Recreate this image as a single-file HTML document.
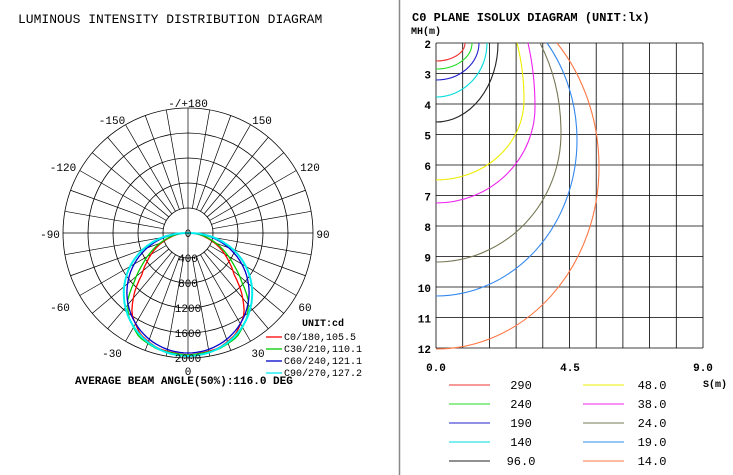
<!DOCTYPE html>
<html><head><meta charset="utf-8"><style>
html,body{margin:0;padding:0;background:#fff}
svg{display:block}
text{font-family:"Liberation Mono",monospace;fill:#000}
</style></head><body>
<svg id="s" width="733" height="475" viewBox="0 0 733 475" xmlns="http://www.w3.org/2000/svg">
<rect width="733" height="475" fill="#fff"/>
<text x="18" y="23" font-size="13">LUMINOUS INTENSITY DISTRIBUTION DIAGRAM</text>
<line x1="399.5" y1="0" x2="399.5" y2="475" stroke="#888" stroke-width="1.5"/>
<g id="polar"></g>
<g id="iso"></g>
<text x="412" y="21" font-size="12" font-weight="bold" font-family="Liberation Mono">C0 PLANE ISOLUX DIAGRAM (UNIT:lx)</text>
<text x="411" y="34" font-size="10" font-weight="bold">MH(m)</text>
<text x="703" y="387" font-size="10" font-weight="bold">S(m)</text>
</svg>
<script>
var NS="http://www.w3.org/2000/svg";
function el(p,t,a,txt){var e=document.createElementNS(NS,t);for(var k in a)e.setAttribute(k,a[k]);if(txt!==undefined)e.textContent=txt;p.appendChild(e);return e;}
var P=document.getElementById('polar'),cx=188,cy=233;
for(var r=25;r<=125;r+=25)el(P,'circle',{cx:cx,cy:cy,r:r,fill:'none',stroke:'#000','stroke-width':0.8});
for(var a=0;a<360;a+=10){var rad=a*Math.PI/180;var r0=(a%90==0)?0:25;
el(P,'line',{x1:cx+r0*Math.sin(rad),y1:cy-r0*Math.cos(rad),x2:cx+125*Math.sin(rad),y2:cy-125*Math.cos(rad),stroke:'#000','stroke-width':0.7});}
function tab(t,arr){t=Math.abs(t);for(var i=0;i<arr.length-1;i++){if(t<=arr[i+1][0]){var f=(t-arr[i][0])/(arr[i+1][0]-arr[i][0]);return arr[i][1]+f*(arr[i+1][1]-arr[i][1]);}}return 0;}
var red=[[0,122],[15,119],[25,112],[35,98],[42,80],[48,62],[55,50],[65,35],[75,20],[85,7],[90,0]];
var green=[[0,122],[15,120],[25,115],[35,103],[42,90],[48,72],[55,56],[65,38],[75,22],[85,8],[90,0]];
var curves=[['#f00',red],['#0c0',green],['#00c',null,0.95,120],['#0ee',null,0.88,123]];
curves.forEach(function(c){var d='';for(var t=-90;t<=90;t+=2){var r=c[1]?tab(t,c[1]):c[3]*Math.pow(Math.cos(t*Math.PI/180),c[2]);var rad=t*Math.PI/180;var x=cx-r*Math.sin(rad),y=cy+r*Math.cos(rad);d+=(d?'L':'M')+x.toFixed(1)+','+y.toFixed(1);}
el(P,'path',{d:d,fill:'none',stroke:c[0],'stroke-width':c[0]=='#0ee'?2:1.3});});
[['400',258],['800',283],['1200',308],['1600',333],['2000',358]].forEach(function(v){el(P,'text',{x:cx,y:v[1]+4,'font-size':11,'text-anchor':'middle'},v[0]);});
el(P,'text',{x:cx,y:237,'font-size':11,'text-anchor':'middle'},'0');
[['-/+180',188,107],['150',262,124],['-150',112,124],['120',310,171],['-120',63,171],['90',323,238],['-90',50,238],['60',305,311],['-60',60,311],['30',258,357],['-30',112,357],['0',188,375]].forEach(function(v){el(P,'text',{x:v[1],y:v[2],'font-size':11,'text-anchor':'middle'},v[0]);});
el(P,'text',{x:302,y:326,'font-size':10,'font-weight':'bold','font-family':'Liberation Serif'},'UNIT:cd');
[['#f00','C0/180,105.5',340],['#0c0','C30/210,110.1',352],['#00c','C60/240,121.1',364],['#0ee','C90/270,127.2',376]].forEach(function(v){el(P,'line',{x1:266,x2:282,y1:v[2]-3,y2:v[2]-3,stroke:v[0],'stroke-width':1.3});el(P,'text',{x:284,y:v[2],'font-size':10},v[1]);});
el(P,'text',{x:75,y:384,'font-size':11,'font-weight':'bold','font-family':'Liberation Serif'},'AVERAGE BEAM ANGLE(50%):116.0 DEG');
var I=document.getElementById('iso'),x0=436,x1=703,y0=43,y1=348;
for(var i=0;i<=10;i++){var x=x0+(x1-x0)*i/10;el(I,'line',{x1:x,x2:x,y1:y0,y2:y1,stroke:'#000','stroke-width':0.8});}
for(var j=0;j<=10;j++){var y=y0+(y1-y0)*j/10;el(I,'line',{x1:x0,x2:x1,y1:y,y2:y,stroke:'#000','stroke-width':0.8});
el(I,'text',{x:431,y:y+5,'font-size':11,'font-weight':'bold','text-anchor':'end'},String(j+2));}
[['0.0',436],['4.5',570],['9.0',703]].forEach(function(v){el(I,'text',{x:v[1],y:371,'font-size':11,'font-weight':'bold','text-anchor':'middle'},v[0]);});
var iso=[['#e33',465,null,null,61],['#2d2',472,null,null,69],['#22c',479,null,null,80],['#0dd',487,null,null,97],['#222',498,null,null,122],
['#ee0',517,524,100,180],['#e2e',528,535,107,203],['#775',540,561,133,262],['#38e',547,577,140,296],['#f74',557,599,167,349]];
iso.forEach(function(c){var xt=c[1],d;
if(c[2]===null){d='M'+xt+','+y0+' A'+(xt-x0)+','+(c[4]-y0)+' 0 0 1 '+x0+','+c[4];}
else{var xm=c[2],ym=c[3],rx=xm-x0;var q=(xt-x0)/rx;var ryt=(ym-y0)/Math.sqrt(1-q*q);
d='M'+xt+','+y0+' A'+rx+','+ryt.toFixed(1)+' 0 0 1 '+xm+','+ym+' A'+rx+','+(c[4]-ym)+' 0 0 1 '+x0+','+c[4];}
el(I,'path',{d:d,fill:'none',stroke:c[0],'stroke-width':1.1});});
var L1=[['#e33','290'],['#2d2','240'],['#22c','190'],['#0dd','140'],['#222','96.0']];
var L2=[['#ee0','48.0'],['#e2e','38.0'],['#775','24.0'],['#38e','19.0'],['#f74','14.0']];
for(var k=0;k<5;k++){var y=385+19*k;
el(I,'line',{x1:449,x2:490,y1:y,y2:y,stroke:L1[k][0],'stroke-width':1});
el(I,'text',{x:521,y:y+4,'font-size':12,'text-anchor':'middle'},L1[k][1]);
el(I,'line',{x1:583,x2:624,y1:y,y2:y,stroke:L2[k][0],'stroke-width':1});
el(I,'text',{x:652,y:y+4,'font-size':12,'text-anchor':'middle'},L2[k][1]);}
</script>
</body></html>
